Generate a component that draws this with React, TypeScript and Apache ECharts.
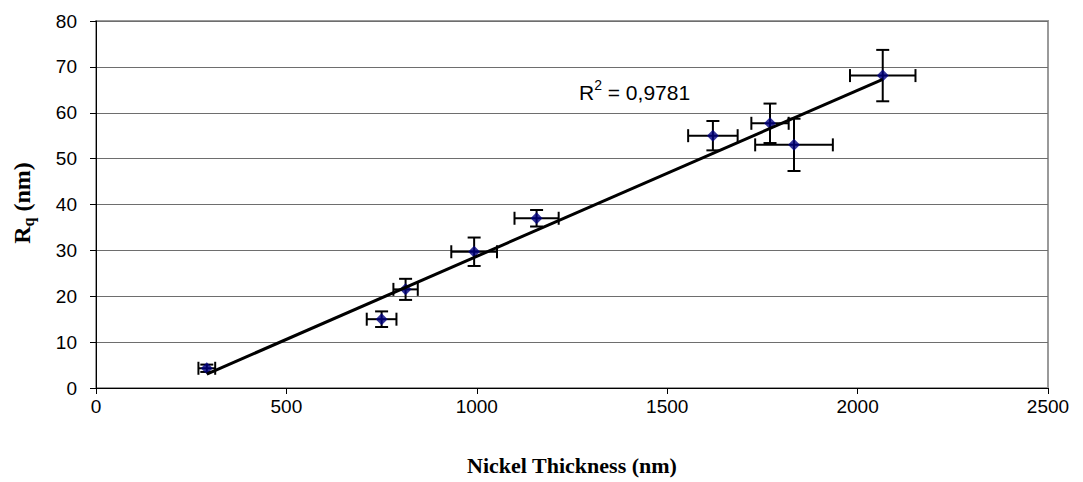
import React, { useEffect, useRef } from "react";
import * as echarts from "echarts";

// Measured samples: nickel thickness (nm) vs RMS roughness Rq (nm)
const thickness = [291, 750, 813, 993, 1157, 1620, 1770, 1833, 2066];
const roughness = [4.3, 15.0, 21.5, 29.7, 37.0, 55.0, 57.7, 53.0, 68.1];
const thicknessErr = [22, 39, 32, 60, 58, 65, 49, 102, 86];
const roughnessErr = [0.8, 1.7, 2.3, 3.1, 1.8, 3.2, 4.3, 5.7, 5.6];

const xTicks = { min: 0, max: 2500, interval: 500 };
const yTicks = { min: 0, max: 80, interval: 10 };
const r2Text = "0,9781";

// Least-squares fit of roughness on thickness
function linearFit(xs: number[], ys: number[]) {
  const n = xs.length;
  const mx = xs.reduce((a, b) => a + b, 0) / n;
  const my = ys.reduce((a, b) => a + b, 0) / n;
  let sxy = 0;
  let sxx = 0;
  for (let i = 0; i < n; i++) {
    sxy += (xs[i] - mx) * (ys[i] - my);
    sxx += (xs[i] - mx) * (xs[i] - mx);
  }
  const slope = sxy / sxx;
  return { slope, intercept: my - slope * mx };
}

export default function App() {
  const ref = useRef<HTMLDivElement>(null);

  useEffect(() => {
    if (!ref.current) return;
    const chart = echarts.init(ref.current, undefined, { renderer: "svg" });

    const fit = linearFit(thickness, roughness);
    const xMin = Math.min(...thickness);
    const xMax = Math.max(...thickness);
    const trend = [
      [xMin, fit.slope * xMin + fit.intercept],
      [xMax, fit.slope * xMax + fit.intercept],
    ];

    const points = thickness.map((x, i) => [x, roughness[i]]);
    const errData = thickness.map((x, i) => [
      x,
      roughness[i],
      thicknessErr[i],
      roughnessErr[i],
    ]);

    const cap = 6.5;
    const sans = "Liberation Sans, Arial, sans-serif";
    const serif = "Liberation Serif, Times New Roman, serif";

    chart.setOption({
      animation: false,
      backgroundColor: "#ffffff",
      grid: {
        left: 96,
        right: 35,
        top: 21,
        bottom: 94,
        show: true,
        borderColor: "#9a9a9a",
        borderWidth: 2,
        backgroundColor: "transparent",
      },
      xAxis: {
        type: "value",
        min: xTicks.min,
        max: xTicks.max,
        interval: xTicks.interval,
        axisLine: { show: true, onZero: false, lineStyle: { color: "#000", width: 1 } },
        axisTick: { show: true, inside: false, length: 6, lineStyle: { color: "#000" } },
        splitLine: { show: false },
        axisLabel: {
          color: "#000",
          fontFamily: sans,
          fontSize: 19,
          margin: 9,
          formatter: (v: number) => String(v),
        },
      },
      yAxis: {
        type: "value",
        min: yTicks.min,
        max: yTicks.max,
        interval: yTicks.interval,
        axisLine: { show: true, onZero: false, lineStyle: { color: "#000", width: 1 } },
        axisTick: { show: true, inside: false, length: 6, lineStyle: { color: "#000" } },
        splitLine: { show: true, lineStyle: { color: "#6e6e6e", width: 1 } },
        axisLabel: {
          color: "#000",
          fontFamily: sans,
          fontSize: 19,
          margin: 19,
          formatter: (v: number) => String(v),
        },
      },
      graphic: [
        {
          type: "text",
          x: 22,
          y: 203,
          rotation: Math.PI / 2,
          style: {
            text: "{a|R}{b|q}{a| (nm)}",
            align: "center",
            verticalAlign: "middle",
            rich: {
              a: {
                fontFamily: serif,
                fontWeight: "bold",
                fontSize: 24,
                lineHeight: 28,
                verticalAlign: "middle",
                fill: "#000",
              },
              b: {
                fontFamily: serif,
                fontWeight: "bold",
                fontSize: 16,
                lineHeight: 28,
                verticalAlign: "bottom",
                fill: "#000",
              },
            },
          },
        },
        {
          type: "text",
          x: 572,
          y: 465,
          style: {
            text: "Nickel Thickness (nm)",
            align: "center",
            verticalAlign: "middle",
            fontFamily: serif,
            fontWeight: "bold",
            fontSize: 22,
            fill: "#000",
          },
        },
        {
          type: "text",
          x: 579,
          y: 90,
          style: {
            text: "{r|R}{s|2}{r| = " + r2Text + "}",
            align: "left",
            verticalAlign: "middle",
            rich: {
              r: {
                fontFamily: sans,
                fontSize: 21,
                lineHeight: 25,
                verticalAlign: "bottom",
                fill: "#000",
              },
              s: {
                fontFamily: sans,
                fontSize: 14,
                lineHeight: 25,
                verticalAlign: "top",
                fill: "#000",
              },
            },
          },
        },
      ],
      series: [
        {
          type: "custom",
          name: "error",
          data: errData,
          z: 2,
          renderItem: (params: any, api: any) => {
            const x = api.value(0);
            const y = api.value(1);
            const ex = api.value(2);
            const ey = api.value(3);
            const c = api.coord([x, y]);
            const l = api.coord([x - ex, y]);
            const r = api.coord([x + ex, y]);
            const t = api.coord([x, y + ey]);
            const b = api.coord([x, y - ey]);
            const style = { stroke: "#000", lineWidth: 2 };
            return {
              type: "group",
              children: [
                { type: "line", shape: { x1: l[0], y1: c[1], x2: r[0], y2: c[1] }, style },
                { type: "line", shape: { x1: l[0], y1: c[1] - cap, x2: l[0], y2: c[1] + cap }, style },
                { type: "line", shape: { x1: r[0], y1: c[1] - cap, x2: r[0], y2: c[1] + cap }, style },
                { type: "line", shape: { x1: c[0], y1: t[1], x2: c[0], y2: b[1] }, style },
                { type: "line", shape: { x1: c[0] - cap, y1: t[1], x2: c[0] + cap, y2: t[1] }, style },
                { type: "line", shape: { x1: c[0] - cap, y1: b[1], x2: c[0] + cap, y2: b[1] }, style },
              ],
            };
          },
        },
        {
          type: "scatter",
          name: "Rq",
          data: points,
          symbol: "diamond",
          symbolSize: 12,
          itemStyle: { color: "#000080" },
          z: 3,
        },
        {
          type: "line",
          name: "fit",
          data: trend,
          showSymbol: false,
          symbol: "none",
          lineStyle: { color: "#000", width: 3 },
          z: 4,
        },
      ],
    });

    return () => chart.dispose();
  }, []);

  return (
    <div
      ref={ref}
      style={{ position: "fixed", left: 0, top: 0, width: 1083, height: 482, background: "#fff" }}
    />
  );
}
